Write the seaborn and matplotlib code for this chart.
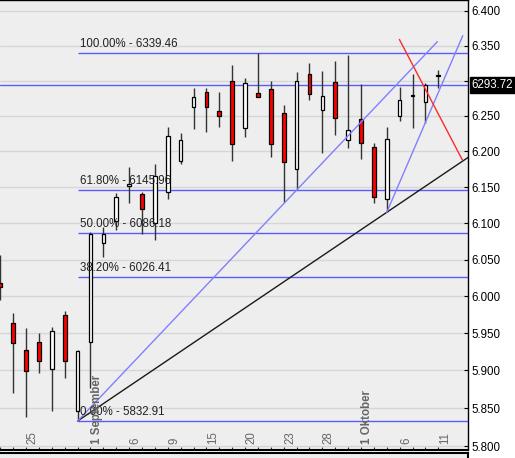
import matplotlib
matplotlib.use("Agg")
import matplotlib.pyplot as plt
import matplotlib.transforms as mtransforms
from matplotlib.ticker import FixedLocator, FuncFormatter, NullLocator
import seaborn as sns

# daily candles, index 7 = 1 September
opens = [6018.4, 5963.3, 5927.4, 5937.8, 5901.6, 5974.5, 5846.5, 5937.8, 6072.3, 6103.0,
         6151.0, 6140.4, 6099.8, 6142.7, 6186.8, 6262.9, 6283.3, 6256.8, 6299.0, 6232.4,
         6281.9, 6287.6, 6253.5, 6174.8, 6309.4, 6258.6, 6297.6, 6215.4, 6245.1, 6205.6,
         6133.0, 6249.3, 6277.5, 6270.0, 6307.0]
highs = [6056.2, 5976.8, 5957.0, 5949.9, 5957.9, 5979.9, 5928.0, 6088.2, 6095.1, 6141.8,
         6178.4, 6143.2, 6182.2, 6233.8, 6225.3, 6289.9, 6289.9, 6283.3, 6322.3, 6303.3,
         6339.46, 6299.4, 6265.3, 6311.8, 6324.7, 6313.7, 6328.0, 6337.0, 6294.7, 6211.6,
         6233.8, 6290.9, 6309.0, 6296.2, 6315.1]
lows = [5994.8, 5869.6, 5838.6, 5897.0, 5846.5, 5890.3, 5832.91, 5877.0, 6053.0, 6090.6,
        6127.4, 6084.6, 6076.7, 6133.4, 6182.2, 6231.4, 6227.5, 6234.6, 6186.8, 6220.6,
        6276.0, 6192.4, 6129.6, 6147.3, 6272.4, 6198.0, 6222.9, 6205.1, 6188.8, 6128.3,
        6115.0, 6242.6, 6233.2, 6239.4, 6289.9]
closes = [6012.1, 5936.4, 5899.7, 5913.0, 5952.9, 5913.0, 5926.1, 6085.0, 6085.0, 6136.6,
          6154.0, 6119.1, 6165.5, 6222.0, 6215.9, 6276.2, 6262.9, 6250.1, 6210.7, 6296.2,
          6277.1, 6209.9, 6185.4, 6299.0, 6280.5, 6278.1, 6247.3, 6230.0, 6212.0, 6135.8,
          6216.8, 6271.9, 6279.0, 6293.72, 6308.5]

date_pos = [2, 7, 10, 13, 16, 19, 22, 25, 28, 31, 34]
date_labels = ["25", "1 September", "6", "9", "15", "20", "23", "28", "1 Oktober", "6", "11"]

fib_pct = ["100.00%", "61.80%", "50.00%", "38.20%", "0.00%"]
fib_levels = [6339.46, 6145.96, 6086.18, 6026.41, 5832.91]
fib_start = 6

last_price = 6293.72
price_ticks = list(range(5800, 6401, 50))
hidden_tick = 6300  # covered by the last price box

# trend lines drawn on the chart (start, end)
black_x, black_y = [6, 36.33], [5832.91, 6191.6]
blue1_x, blue1_y = [6, 33.93], [5832.91, 6355.7]
blue2_x, blue2_y = [30, 35.9], [6115.0, 6364.3]
red_x, red_y = [30.98, 35.87], [6358.9, 6187.8]

sns.set_style("white", rc={"axes.facecolor": "#EEEEEE"})
plt.rcParams['font.family'] = ['Liberation Sans', 'DejaVu Sans']

fig = plt.figure(figsize=(5.15, 4.58), dpi=100)
fig.patch.set_facecolor("white")
ax = fig.add_axes([0, 8 / 458, 468.3 / 515, 450 / 458])
ax.set_facecolor("#EEEEEE")

n = len(opens)
xs = list(range(n))

# wicks and bodies
ax.vlines(xs, lows, highs, color="#333333", lw=1, zorder=3)
for i in xs:
    o, c = opens[i], closes[i]
    col = "white" if c >= o else "#FF0000"
    ax.bar(i, abs(c - o), bottom=min(o, c), width=0.28, color=col,
           edgecolor="black", linewidth=0.9, zorder=4)

# fibonacci levels
xmax = 36.33
ax.hlines(fib_levels, fib_start, xmax, color="#5A5AFF", lw=1, zorder=2)
for pct, lvl in zip(fib_pct, fib_levels):
    ax.annotate(f"{pct} - {lvl:.2f}", xy=(fib_start, lvl), xytext=(2, 2),
                textcoords="offset points", ha="left", va="bottom",
                fontsize=8.3, color="#222222", zorder=6)

ax.axhline(last_price, color="#5A5AFF", lw=1, zorder=2)

# trend lines
sns.lineplot(x=black_x, y=black_y, ax=ax, color="#1A1A1A", lw=1, zorder=5)
sns.lineplot(x=blue1_x, y=blue1_y, ax=ax, color="#8080FF", lw=1, zorder=5)
sns.lineplot(x=blue2_x, y=blue2_y, ax=ax, color="#8080FF", lw=1, zorder=5)
sns.lineplot(x=red_x, y=red_y, ax=ax, color="#FF2A2A", lw=1, zorder=5)

def price_fmt(v, _):
    if round(v) == hidden_tick:
        return ""
    return f"{v / 1000:.3f}"

ax.set_yscale("log")
ax.set_ylim(5794.8, 6415.9)
ax.set_xlim(-0.023, xmax)
ax.yaxis.set_major_locator(FixedLocator(price_ticks))
ax.yaxis.set_minor_locator(NullLocator())
ax.yaxis.set_major_formatter(FuncFormatter(price_fmt))
ax.yaxis.tick_right()
ax.tick_params(axis="y", direction="in", length=3, pad=2.5, labelsize=8.3,
               colors="black", right=True, left=False)
ax.set_xticks(xs)
ax.set_xticklabels([])
ax.tick_params(axis="x", direction="in", length=2.5, bottom=True, top=False)
ax.grid(axis="y", color="#D6D6D6", lw=1)
ax.set_axisbelow(True)
ax.set_xlabel("")
ax.set_ylabel("")

for side in ["top", "right", "bottom"]:
    ax.spines[side].set_color("black")
    ax.spines[side].set_linewidth(1)
ax.spines["bottom"].set_linewidth(1.5)
ax.spines["left"].set_visible(False)

# date labels inside the plot
trans = mtransforms.blended_transform_factory(ax.transData, ax.transAxes)
for p, lab in zip(date_pos, date_labels):
    ax.text(p + 0.5, 0.013, lab, transform=trans, rotation=90, ha="center",
            va="bottom", fontsize=8.3, color="#666666",
            fontweight="bold" if " " in lab else "normal", zorder=6)

# last price box on the axis
ax.annotate(f"{last_price:.2f}", xy=(1, last_price),
            xycoords=mtransforms.blended_transform_factory(ax.transAxes, ax.transData),
            xytext=(2.5, 0), textcoords="offset points", ha="left", va="center",
            fontsize=8.3, color="white", annotation_clip=False,
            bbox=dict(facecolor="black", edgecolor="black", pad=1.2))

# lower panel, mostly cut off
ax2 = fig.add_axes([0, -0.05, 468.3 / 515, 0.05 + 5 / 458])
ax2.set_facecolor("#EEEEEE")
ax2.set_xticks([])
ax2.set_yticks([])
for side in ["top", "right"]:
    ax2.spines[side].set_color("black")
    ax2.spines[side].set_linewidth(1.5)
ax2.spines["left"].set_visible(False)
ax2.spines["bottom"].set_visible(False)

fig.savefig("out.png", dpi=100)
